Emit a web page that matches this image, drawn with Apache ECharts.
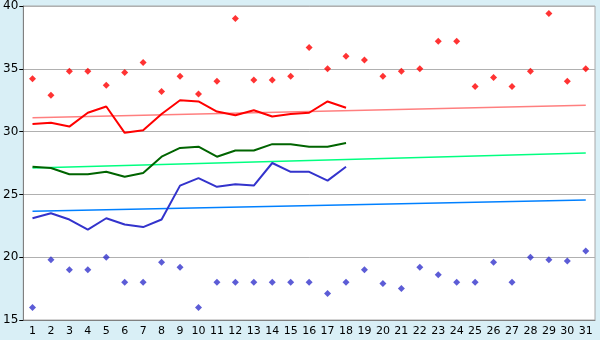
<!DOCTYPE html>
<html><head><meta charset="utf-8">
<script src="https://cdn.jsdelivr.net/npm/echarts@6/dist/echarts.min.js"></script>
<style>html,body{margin:0;padding:0;background:#d9eff6;}#c{width:600px;height:340px;}</style>
</head><body><div id="c"></div>
<script>
var days = ['1','2','3','4','5','6','7','8','9','10','11','12','13','14','15','16','17','18','19','20','21','22','23','24','25','26','27','28','29','30','31'];
var maxPoints = [34.2,32.9,34.8,34.8,33.7,34.7,35.5,33.2,34.4,33.0,34.0,39.0,34.1,34.1,34.4,36.7,35.0,36.0,35.7,34.4,34.8,35.0,37.2,37.2,33.6,34.3,33.6,34.8,39.4,34.0,35.0];
var minPoints = [16.0,19.8,19.0,19.0,20.0,18.0,18.0,19.6,19.2,16.0,18.0,18.0,18.0,18.0,18.0,18.0,17.1,18.0,19.0,17.9,17.5,19.2,18.6,18.0,18.0,19.6,18.0,20.0,19.8,19.7,20.5];
var redLine = [30.6,30.7,30.4,31.5,32.0,29.9,30.1,31.4,32.5,32.4,31.6,31.3,31.7,31.2,31.4,31.5,32.4,31.9];
var greenLine = [27.2,27.1,26.6,26.6,26.8,26.4,26.7,28.0,28.7,28.8,28.0,28.5,28.5,29.0,29.0,28.8,28.8,29.1];
var blueLine = [23.1,23.5,23.0,22.2,23.1,22.6,22.4,23.0,25.7,26.3,25.6,25.8,25.7,27.5,26.8,26.8,26.1,27.2];
var redTrend = [31.1, 32.1];
var greenTrend = [27.1, 28.3];
var blueTrend = [23.65, 24.55];
var yTicks = [15, 20, 25, 30, 35, 40];

function trend(t){ return [[days[0], t[0]], [days[days.length-1], t[1]]]; }

var chart = echarts.init(document.getElementById('c'));
chart.setOption({
  animation: false,
  backgroundColor: '#d9eff6',
  grid: {left: 21, right: 5, top: 5, bottom: 20, show: true, backgroundColor: '#ffffff', borderColor: '#a8a8a8', borderWidth: 1},
  xAxis: {
    type: 'category', data: days, boundaryGap: true,
    axisLine: {lineStyle: {color: '#808080'}},
    axisTick: {alignWithLabel: true, length: 5, lineStyle: {color: '#000'}},
    axisLabel: {color: '#000', fontFamily: 'DejaVu Sans', fontSize: 11, margin: 6, interval: 0},
    splitLine: {show: false}
  },
  yAxis: {
    type: 'value', min: yTicks[0], max: yTicks[yTicks.length-1], interval: 5,
    axisLine: {show: true, lineStyle: {color: '#808080'}},
    axisTick: {show: true, length: 4, lineStyle: {color: '#000'}},
    axisLabel: {color: '#000', fontFamily: 'DejaVu Sans', fontSize: 12, margin: 5, padding: [3, 0, 0, 0]},
    splitLine: {lineStyle: {color: '#b0b0b0', width: 1}}
  },
  series: [
    {type: 'line', data: trend(redTrend), symbol: 'none', lineStyle: {color: '#ff7f7f', width: 1.5}, z: 1},
    {type: 'line', data: trend(greenTrend), symbol: 'none', lineStyle: {color: '#00ff80', width: 1.5}, z: 1},
    {type: 'line', data: trend(blueTrend), symbol: 'none', lineStyle: {color: '#0080ff', width: 1.5}, z: 1},
    {type: 'line', data: redLine, symbol: 'none', lineStyle: {color: '#ff0000', width: 2}, z: 2},
    {type: 'line', data: greenLine, symbol: 'none', lineStyle: {color: '#006400', width: 2}, z: 2},
    {type: 'line', data: blueLine, symbol: 'none', lineStyle: {color: '#3333cc', width: 2}, z: 2},
    {type: 'scatter', data: maxPoints, symbol: 'diamond', symbolSize: 7, itemStyle: {color: '#ff0000'}, z: 3},
    {type: 'scatter', data: minPoints, symbol: 'diamond', symbolSize: 7, itemStyle: {color: '#3333cc'}, z: 3}
  ]
});
</script></body></html>
